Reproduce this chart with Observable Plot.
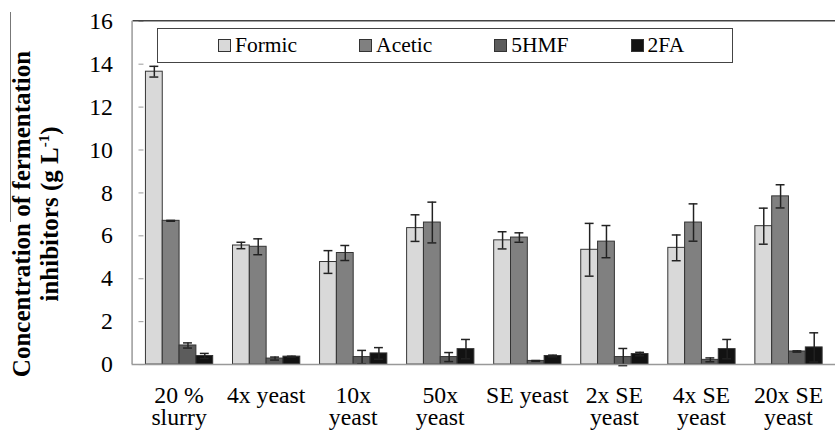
<!DOCTYPE html>
<html>
<head>
<meta charset="utf-8">
<script src="https://cdn.jsdelivr.net/npm/d3@7"></script>
<script src="https://cdn.jsdelivr.net/npm/@observablehq/plot@0.6"></script>
<style>
  html, body { margin: 0; padding: 0; background: #fff; overflow: hidden; }
  #wrap { position: relative; width: 835px; height: 435px; overflow: hidden; font-family: 'Liberation Serif', serif; }
  #chart { position: absolute; left: 0; top: 0; }
  #ytitle { position: absolute; left: 36px; top: 214px; width: 0; height: 0; }
  #ytitle div { position: absolute; transform: translate(-50%, -50%) rotate(-90deg); white-space: nowrap; font-family: 'Liberation Serif', serif; font-weight: bold; font-size: 25px; line-height: 28px; text-align: center; color: #000; }
  #oddline { position: absolute; left: 10px; top: 12px; width: 0; height: 210px; border-left: 1.5px solid #777; }
  #legend { position: absolute; left: 157px; top: 28px; width: 514px; height: 33px; border: 1.5px solid #444; background: #fff; display: flex; align-items: center; padding-left: 60px; box-sizing: content-box; gap: 62px; font-family: 'Liberation Serif', serif; font-size: 21.5px; color: #000; }
  #legend .item { display: flex; align-items: center; white-space: nowrap; }
  #legend .sw { width: 11px; height: 11px; border: 1px solid #333; margin-right: 4px; }
</style>
</head>
<body>
<div id="wrap">
  <div id="chart"></div>
  <div id="oddline"></div>
  <div id="ytitle"><div>Concentration of fermentation<br>inhibitors (g L<sup style="font-size:15px;line-height:0">-1</sup>)</div></div>
  <div id="legend"></div>
</div>
<script>
const categories = ["20 %\nslurry", "4x yeast", "10x\nyeast", "50x\nyeast", "SE yeast", "2x SE\nyeast", "4x SE\nyeast", "20x SE\nyeast"];
const series = ["Formic", "Acetic", "5HMF", "2FA"];
const seriesColors = ["#d9d9d9", "#808080", "#5c5c5c", "#121212"];
const formic    = [13.65, 5.55, 4.78, 6.36, 5.79, 5.35, 5.44, 6.45];
const formicErr = [0.25, 0.15, 0.53, 0.62, 0.40, 1.23, 0.60, 0.84];
const acetic    = [6.70, 5.49, 5.20, 6.62, 5.92, 5.73, 6.62, 7.84];
const aceticErr = [0.02, 0.37, 0.35, 0.95, 0.22, 0.75, 0.87, 0.54];
const hmf       = [0.89, 0.28, 0.35, 0.35, 0.17, 0.35, 0.22, 0.61];
const hmfErr    = [0.12, 0.07, 0.31, 0.21, 0.02, 0.40, 0.09, 0.03];
const fa        = [0.40, 0.37, 0.52, 0.72, 0.40, 0.49, 0.72, 0.80];
const faErr     = [0.12, 0.02, 0.27, 0.45, 0.04, 0.08, 0.45, 0.68];
const yTicks = [0, 2, 4, 6, 8, 10, 12, 14, 16];

const valueSets = [formic, acetic, hmf, fa];
const errSets = [formicErr, aceticErr, hmfErr, faErr];
const rows = [];
categories.forEach((c, i) => {
  series.forEach((s, j) => {
    rows.push({category: c, series: s, value: valueSets[j][i], err: errSets[j][i]});
  });
});

const hasAxisMarks = typeof Plot.axisY === "function" && typeof Plot.axisFx === "function";
const W = 844, H = 435;
const marks = [
  Plot.barY(rows, {x: "series", y: "value", fill: "series", stroke: "#333", strokeWidth: 1}),
  Plot.ruleX(rows, {x: "series", y1: d => d.value - d.err, y2: d => d.value + d.err, stroke: "#222", strokeWidth: 1.5}),
  Plot.tickY(rows, {x: "series", y: d => d.value + d.err, insetLeft: 4, insetRight: 4, stroke: "#222", strokeWidth: 1.5}),
  Plot.tickY(rows, {x: "series", y: d => d.value - d.err, insetLeft: 4, insetRight: 4, stroke: "#222", strokeWidth: 1.5})
];
if (hasAxisMarks) {
  marks.push(
    Plot.axisY({anchor: "left", ticks: yTicks, tickSize: 5, tickPadding: 15, stroke: "#999", fill: "#000", label: null, fontSize: 24}),
    Plot.axisFx({anchor: "bottom", tickSize: 0, tickPadding: 20, label: null, fill: "#000", lineHeight: 0.92, fontSize: 24})
  );
}
const plot = Plot.plot({
  width: W,
  height: H,
  marginLeft: 134,
  marginRight: 0,
  marginTop: 21,
  marginBottom: 67,
  style: "font-family: 'Liberation Serif', serif; font-size: 24px; color: #000; background: transparent;",
  facet: {data: rows, x: "category"},
  fx: {domain: categories, paddingInner: 0.188, paddingOuter: 0.094, label: null, tickSize: 0, tickPadding: 20, axis: hasAxisMarks ? null : "bottom"},
  x: {domain: series, padding: 0, axis: null},
  y: {domain: [0, 16], ticks: yTicks, tickSize: 5, tickPadding: 15, label: null, axis: hasAxisMarks ? null : "left"},
  color: {domain: series, range: seriesColors},
  marks
});

// axis lines / frame
const ys = plot.scale("y");
const svg = d3.select(plot);
const y0 = ys.apply(0), y16 = ys.apply(16);
svg.append("line").attr("x1", 134).attr("x2", W).attr("y1", y16).attr("y2", y16).attr("stroke", "#444").attr("stroke-width", 1.5);
svg.append("line").attr("x1", 133.5).attr("x2", 133.5).attr("y1", y16).attr("y2", y0).attr("stroke", "#999").attr("stroke-width", 1.5);
svg.append("line").attr("x1", 133).attr("x2", W).attr("y1", y0 + 0.5).attr("y2", y0 + 0.5).attr("stroke", "#999").attr("stroke-width", 1.5);

document.getElementById("chart").appendChild(plot);

// align tick labels with the reference layout (measured after rendering)
const svgRect = plot.getBoundingClientRect();
const yGroups = plot.querySelectorAll('g[aria-label="y-axis tick label"]');
if (yGroups.length) {
  let maxRight = -Infinity;
  yGroups.forEach(g => g.querySelectorAll("text").forEach(t => {
    maxRight = Math.max(maxRight, t.getBoundingClientRect().right - svgRect.left);
  }));
  if (isFinite(maxRight)) {
    const dx = 113 - maxRight;
    yGroups.forEach(g => g.setAttribute("transform", (g.getAttribute("transform") || "") + ` translate(${dx},0)`));
  }
}
const fxGroups = plot.querySelectorAll('g[aria-label="fx-axis tick label"]');
if (fxGroups.length) {
  let minTop = Infinity;
  fxGroups.forEach(g => g.querySelectorAll("text").forEach(t => {
    minTop = Math.min(minTop, t.getBoundingClientRect().top - svgRect.top);
  }));
  if (isFinite(minTop)) {
    const dy = 382 - minTop;
    fxGroups.forEach(g => g.setAttribute("transform", (g.getAttribute("transform") || "") + ` translate(0,${dy})`));
  }
}

// legend
const leg = d3.select("#legend");
series.forEach((s, j) => {
  const it = leg.append("div").attr("class", "item");
  it.append("div").attr("class", "sw").style("background", seriesColors[j]);
  it.append("span").text(s);
});
</script>
</body>
</html>
